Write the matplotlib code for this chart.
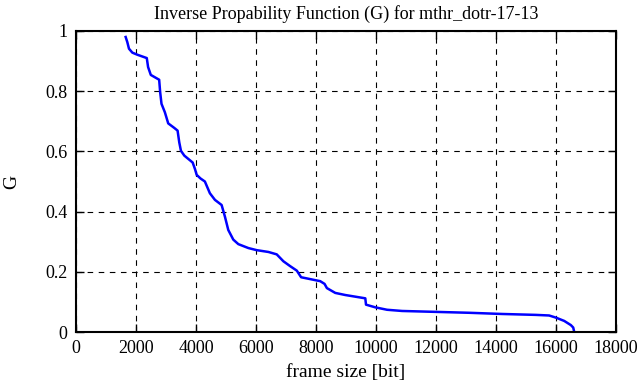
import matplotlib
matplotlib.use("Agg")
import matplotlib.pyplot as plt

# inverse probability curve
frame_bits = [1654, 1709, 1765, 1877, 2045, 2358, 2402, 2492, 2771, 2804,
              2849, 2961, 3073, 3274, 3385, 3441, 3497, 3609, 3888, 3966,
              4022, 4150, 4295, 4462, 4630, 4853, 4964, 5075, 5242, 5410,
              5744, 6022, 6412, 6690, 6913, 7136, 7359, 7503, 7748, 8139,
              8284, 8362, 8641, 8975, 9643, 9666, 9978, 10368, 10870, 11983,
              13097, 14211, 15326, 15771, 15994, 16273, 16496, 16574, 16608]
g_vals = [0.980, 0.963, 0.941, 0.928, 0.921, 0.910, 0.880, 0.854, 0.838, 0.797,
          0.758, 0.730, 0.693, 0.678, 0.669, 0.630, 0.602, 0.586, 0.563, 0.541,
          0.522, 0.510, 0.500, 0.461, 0.439, 0.422, 0.383, 0.339, 0.307, 0.292,
          0.279, 0.272, 0.266, 0.258, 0.235, 0.219, 0.204, 0.182, 0.177, 0.169,
          0.160, 0.146, 0.130, 0.123, 0.112, 0.091, 0.082, 0.074, 0.070, 0.067,
          0.064, 0.060, 0.057, 0.055, 0.048, 0.037, 0.023, 0.015, 0.0]

x_ticks = list(range(0, 18001, 2000))
y_ticks = [0, 0.2, 0.4, 0.6, 0.8, 1]
y_tick_labels = ["0", "0.2", "0.4", "0.6", "0.8", "1"]

plt.rcParams.update({"font.family": "Liberation Serif", "font.size": 13})

fig = plt.figure(figsize=(6.39, 3.87), dpi=100, facecolor="w")
ax = fig.add_axes([0.119, 0.142, 0.845, 0.778])

ax.plot(frame_bits, g_vals, color=(0, 0, 1), linewidth=1.8)

ax.set_xlim(0, 18000)
ax.set_ylim(0, 1)
ax.set_xticks(x_ticks)
ax.set_yticks(y_ticks)
ax.set_yticklabels(y_tick_labels)
ax.grid(True, color="black", linestyle=(0, (5, 5)), linewidth=0.8)
ax.tick_params(direction="in", length=6, top=True, right=True, width=1, pad=6)
for sp in ax.spines.values():
    sp.set_linewidth(1.5)

ax.set_xlabel("frame size [bit]", fontsize=14, labelpad=5)
ax.set_ylabel("G", fontsize=14, labelpad=18)
ax.set_title("Inverse Propability Function (G) for mthr_dotr-17-13", fontsize=13, pad=9)

fig.savefig("out.png", dpi=100)
